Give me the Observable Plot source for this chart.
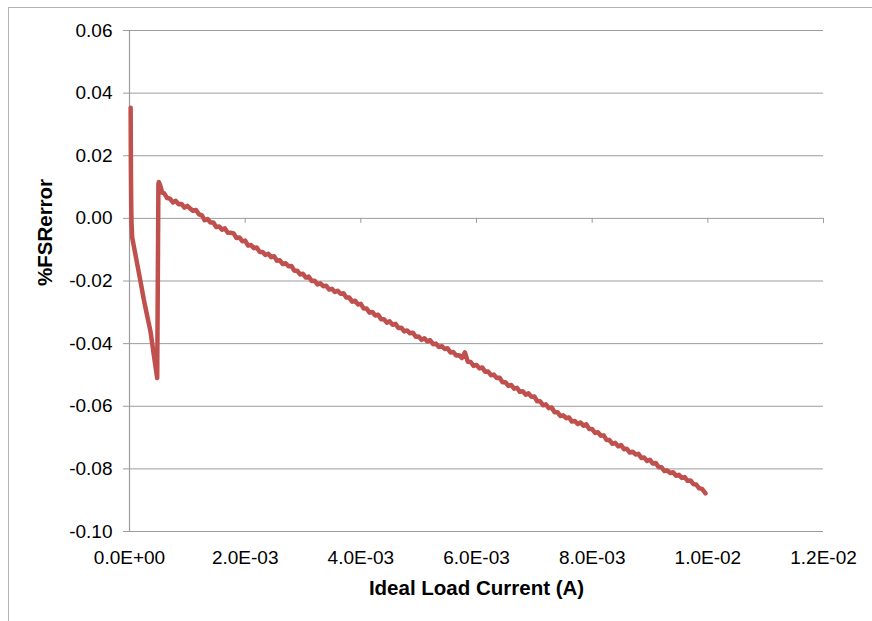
<!DOCTYPE html>
<html>
<head>
<meta charset="utf-8">
<script src="https://cdn.jsdelivr.net/npm/d3@7"></script>
<script src="https://cdn.jsdelivr.net/npm/@observablehq/plot@0.6"></script>
<style>
  html, body { margin: 0; padding: 0; background: #fff; }
  #wrap { position: relative; width: 872px; height: 621px; overflow: hidden; background: #fff; }
  #frame { position: absolute; left: 8px; top: 7px; width: 1000px; height: 1000px; border-left: 1px solid #b4b4b4; border-top: 1px solid #b4b4b4; }
  #chart { position: absolute; left: 0; top: 0; }
</style>
</head>
<body>
<div id="wrap"><div id="frame"></div><div id="chart"></div></div>
<script>
// Ideal load current, in mA (converted to A for plotting)
const currentMA = [
  0.020, 0.025, 0.030, 0.035, 0.047, 0.100, 0.150, 0.190, 0.247, 0.300,
  0.363, 0.420, 0.460, 0.479,
  0.500, 0.507, 0.530, 0.565,
  0.60, 0.65, 0.70, 0.75, 0.80, 0.85, 0.90, 0.95, 1.00, 1.05,
  1.10, 1.15, 1.20, 1.25, 1.30, 1.35, 1.40, 1.45, 1.50, 1.55,
  1.60, 1.65, 1.70, 1.75, 1.80, 1.85, 1.90, 1.95, 2.00, 2.05,
  2.10, 2.15, 2.20, 2.25, 2.30, 2.35, 2.40, 2.45, 2.50, 2.55,
  2.60, 2.65, 2.70, 2.75, 2.80, 2.85, 2.90, 2.95, 3.00, 3.05,
  3.10, 3.15, 3.20, 3.25, 3.30, 3.35, 3.40, 3.45, 3.50, 3.55,
  3.60, 3.65, 3.70, 3.75, 3.80, 3.85, 3.90, 3.95, 4.00, 4.05,
  4.10, 4.15, 4.20, 4.25, 4.30, 4.35, 4.40, 4.45, 4.50, 4.55,
  4.60, 4.65, 4.70, 4.75, 4.80, 4.85, 4.90, 4.95, 5.00, 5.05,
  5.10, 5.15, 5.20, 5.25, 5.30, 5.35, 5.40, 5.45, 5.50, 5.55,
  5.60, 5.65, 5.70, 5.75, 5.80, 5.85, 5.90, 5.95, 6.00, 6.05,
  6.10, 6.15, 6.20, 6.25, 6.30, 6.35, 6.40, 6.45, 6.50, 6.55,
  6.60, 6.65, 6.70, 6.75, 6.80, 6.85, 6.90, 6.95, 7.00, 7.05,
  7.10, 7.15, 7.20, 7.25, 7.30, 7.35, 7.40, 7.45, 7.50, 7.55,
  7.60, 7.65, 7.70, 7.75, 7.80, 7.85, 7.90, 7.95, 8.00, 8.05,
  8.10, 8.15, 8.20, 8.25, 8.30, 8.35, 8.40, 8.45, 8.50, 8.55,
  8.60, 8.65, 8.70, 8.75, 8.80, 8.85, 8.90, 8.95, 9.00, 9.05,
  9.10, 9.15, 9.20, 9.25, 9.30, 9.35, 9.40, 9.45, 9.50, 9.55,
  9.60, 9.65, 9.70, 9.75, 9.80, 9.85, 9.90, 9.96
];
// %FSR error
const fsrError = [
  0.0353, 0.0150, 0.0040, -0.0014, -0.0062, -0.0113, -0.0162, -0.0201, -0.0259, -0.0306,
  -0.0361, -0.0435, -0.0486, -0.0510,
  0.0110, 0.0116, 0.0106, 0.0082,
  0.0080, 0.0065, 0.0063, 0.0051, 0.0056, 0.0045, 0.0046, 0.0034, 0.0040, 0.0031,
  0.0024, 0.0027, 0.0013, 0.0010, -0.0006, -0.0002, -0.0013, -0.0013, -0.0028, -0.0026,
  -0.0036, -0.0032, -0.0046, -0.0046, -0.0048, -0.0063, -0.0061, -0.0073, -0.0071, -0.0087,
  -0.0085, -0.0095, -0.0093, -0.0107, -0.0107, -0.0117, -0.0113, -0.0124, -0.0121, -0.0135,
  -0.0134, -0.0146, -0.0143, -0.0153, -0.0152, -0.0167, -0.0167, -0.0179, -0.0177, -0.0189,
  -0.0186, -0.0200, -0.0199, -0.0211, -0.0207, -0.0217, -0.0215, -0.0227, -0.0225, -0.0235,
  -0.0231, -0.0241, -0.0239, -0.0253, -0.0253, -0.0266, -0.0263, -0.0275, -0.0273, -0.0288,
  -0.0288, -0.0301, -0.0299, -0.0310, -0.0308, -0.0322, -0.0322, -0.0333, -0.0329, -0.0340,
  -0.0337, -0.0350, -0.0349, -0.0361, -0.0358, -0.0367, -0.0365, -0.0378, -0.0377, -0.0388,
  -0.0383, -0.0393, -0.0389, -0.0402, -0.0400, -0.0411, -0.0408, -0.0417, -0.0415, -0.0428,
  -0.0427, -0.0438, -0.0437, -0.0446, -0.0428, -0.0458, -0.0459, -0.0471, -0.0468, -0.0479,
  -0.0476, -0.0490, -0.0489, -0.0501, -0.0499, -0.0510, -0.0509, -0.0523, -0.0523, -0.0535,
  -0.0532, -0.0544, -0.0541, -0.0554, -0.0552, -0.0563, -0.0559, -0.0570, -0.0569, -0.0584,
  -0.0584, -0.0597, -0.0594, -0.0606, -0.0604, -0.0619, -0.0619, -0.0631, -0.0629, -0.0638,
  -0.0636, -0.0649, -0.0647, -0.0657, -0.0652, -0.0662, -0.0658, -0.0673, -0.0673, -0.0685,
  -0.0683, -0.0694, -0.0693, -0.0708, -0.0708, -0.0720, -0.0717, -0.0728, -0.0724, -0.0737,
  -0.0736, -0.0748, -0.0745, -0.0754, -0.0752, -0.0765, -0.0764, -0.0775, -0.0771, -0.0783,
  -0.0781, -0.0795, -0.0795, -0.0807, -0.0805, -0.0813, -0.0811, -0.0822, -0.0819, -0.0829,
  -0.0826, -0.0838, -0.0837, -0.0849, -0.0850, -0.0862, -0.0864, -0.0878
];
const xTicks = [0, 0.002, 0.004, 0.006, 0.008, 0.010, 0.012];
const yTicks = [-0.10, -0.08, -0.06, -0.04, -0.02, 0.00, 0.02, 0.04, 0.06];
const xTitle = "Ideal Load Current (A)";
const yTitle = "%FSRerror";

const data = currentMA.map((ma, i) => ({x: ma / 1000, y: fsrError[i]}));

function fmtX(d) {
  const [m, e] = d.toExponential(1).split("e");
  const n = +e;
  return m + "E" + (n < 0 ? "-" : "+") + String(Math.abs(n)).padStart(2, "0");
}
const fmtY = d => (Math.abs(d) < 1e-12 ? 0 : d).toFixed(2);

const gray = "#9c9c9c";
const font = "'Liberation Sans', Arial, sans-serif";

const chart = Plot.plot({
  width: 872,
  height: 621,
  marginLeft: 129,
  marginRight: 49,
  marginTop: 30,
  marginBottom: 90,
  style: { fontFamily: font, fontSize: "19px", color: "#000", background: "transparent" },
  x: { domain: [0, 0.012] },
  y: { domain: [-0.1, 0.06] },
  marks: [
    Plot.gridY(yTicks, { stroke: gray, strokeOpacity: 1, strokeWidth: 1 }),
    Plot.ruleX([0], { stroke: gray, strokeWidth: 1.2 }),
    Plot.axisY(yTicks, { tickSize: 6, tickPadding: 11, tickFormat: fmtY, stroke: gray, fill: "#000", fontSize: 19, label: null }),
    Plot.axisX(xTicks, { tickSize: 0, tickPadding: 19, tickFormat: fmtX, fill: "#000", fontSize: 19, label: null }),
    Plot.ruleX(xTicks, { y1: 0, y2: 0, insetBottom: -5, stroke: gray }),
    Plot.line(data, { x: "x", y: "y", stroke: "#C0504D", strokeWidth: 4.5, strokeLinejoin: "round", strokeLinecap: "round" }),
    Plot.text([xTitle], { text: d => d, frameAnchor: "bottom", dy: 63, lineAnchor: "bottom", fontWeight: "bold", fontSize: 20.5, fill: "#000" }),
    Plot.text([yTitle], { text: d => d, frameAnchor: "left", dx: -84, dy: 5, rotate: -90, fontWeight: "bold", fontSize: 20.5, fill: "#000" })
  ]
});
document.getElementById("chart").appendChild(chart);
</script>
</body>
</html>
